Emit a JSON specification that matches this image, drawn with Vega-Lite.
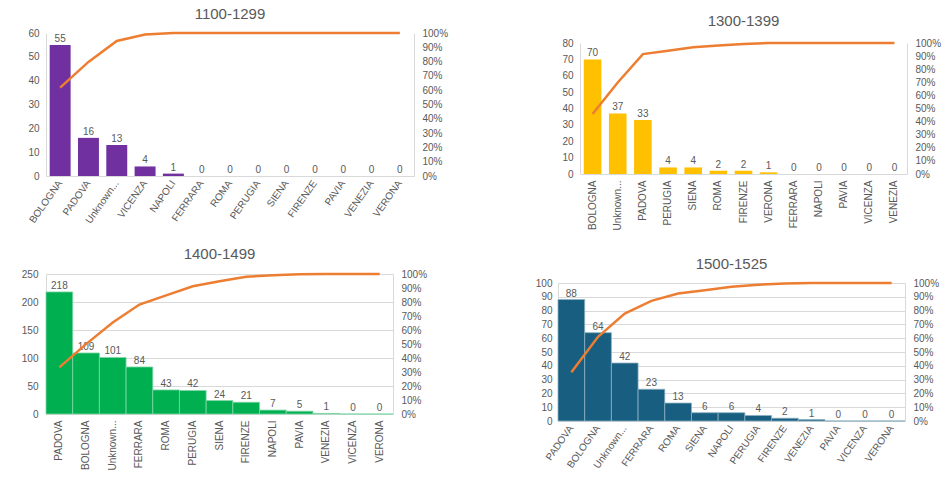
{
  "$schema": "https://vega.github.io/schema/vega-lite/v6.json",
  "padding": {"left": 5, "top": 7, "right": 0, "bottom": 0},
  "background": "white",
  "config": {
    "view": {"stroke": null},
    "font": "Liberation Sans",
    "axis": {"labelColor": "#595959", "labelFontSize": 10, "ticks": false, "domainColor": "#D9D9D9", "gridColor": "#D9D9D9", "domainWidth": 1},
    "title": {"fontSize": 15, "fontWeight": "normal", "color": "#595959", "anchor": "middle"},
    "text": {"fontSize": 10, "color": "#595959"}
  },
  "data": {"values": [
    {"period": "1100-1299", "city": "BOLOGNA", "count": 55, "cum": 0.618, "rank": 1},
    {"period": "1100-1299", "city": "PADOVA", "count": 16, "cum": 0.798, "rank": 2},
    {"period": "1100-1299", "city": "Unknown...", "count": 13, "cum": 0.944, "rank": 3},
    {"period": "1100-1299", "city": "VICENZA", "count": 4, "cum": 0.989, "rank": 4},
    {"period": "1100-1299", "city": "NAPOLI", "count": 1, "cum": 1, "rank": 5},
    {"period": "1100-1299", "city": "FERRARA", "count": 0, "cum": 1, "rank": 6},
    {"period": "1100-1299", "city": "ROMA", "count": 0, "cum": 1, "rank": 7},
    {"period": "1100-1299", "city": "PERUGIA", "count": 0, "cum": 1, "rank": 8},
    {"period": "1100-1299", "city": "SIENA", "count": 0, "cum": 1, "rank": 9},
    {"period": "1100-1299", "city": "FIRENZE", "count": 0, "cum": 1, "rank": 10},
    {"period": "1100-1299", "city": "PAVIA", "count": 0, "cum": 1, "rank": 11},
    {"period": "1100-1299", "city": "VENEZIA", "count": 0, "cum": 1, "rank": 12},
    {"period": "1100-1299", "city": "VERONA", "count": 0, "cum": 1, "rank": 13},
    {"period": "1300-1399", "city": "BOLOGNA", "count": 70, "cum": 0.458, "rank": 1},
    {"period": "1300-1399", "city": "Unknown...", "count": 37, "cum": 0.699, "rank": 2},
    {"period": "1300-1399", "city": "PADOVA", "count": 33, "cum": 0.915, "rank": 3},
    {"period": "1300-1399", "city": "PERUGIA", "count": 4, "cum": 0.941, "rank": 4},
    {"period": "1300-1399", "city": "SIENA", "count": 4, "cum": 0.967, "rank": 5},
    {"period": "1300-1399", "city": "ROMA", "count": 2, "cum": 0.98, "rank": 6},
    {"period": "1300-1399", "city": "FIRENZE", "count": 2, "cum": 0.993, "rank": 7},
    {"period": "1300-1399", "city": "VERONA", "count": 1, "cum": 1, "rank": 8},
    {"period": "1300-1399", "city": "FERRARA", "count": 0, "cum": 1, "rank": 9},
    {"period": "1300-1399", "city": "NAPOLI", "count": 0, "cum": 1, "rank": 10},
    {"period": "1300-1399", "city": "PAVIA", "count": 0, "cum": 1, "rank": 11},
    {"period": "1300-1399", "city": "VICENZA", "count": 0, "cum": 1, "rank": 12},
    {"period": "1300-1399", "city": "VENEZIA", "count": 0, "cum": 1, "rank": 13},
    {"period": "1400-1499", "city": "PADOVA", "count": 218, "cum": 0.333, "rank": 1},
    {"period": "1400-1499", "city": "BOLOGNA", "count": 109, "cum": 0.499, "rank": 2},
    {"period": "1400-1499", "city": "Unknown...", "count": 101, "cum": 0.653, "rank": 3},
    {"period": "1400-1499", "city": "FERRARA", "count": 84, "cum": 0.782, "rank": 4},
    {"period": "1400-1499", "city": "ROMA", "count": 43, "cum": 0.847, "rank": 5},
    {"period": "1400-1499", "city": "PERUGIA", "count": 42, "cum": 0.912, "rank": 6},
    {"period": "1400-1499", "city": "SIENA", "count": 24, "cum": 0.948, "rank": 7},
    {"period": "1400-1499", "city": "FIRENZE", "count": 21, "cum": 0.98, "rank": 8},
    {"period": "1400-1499", "city": "NAPOLI", "count": 7, "cum": 0.991, "rank": 9},
    {"period": "1400-1499", "city": "PAVIA", "count": 5, "cum": 0.998, "rank": 10},
    {"period": "1400-1499", "city": "VENEZIA", "count": 1, "cum": 1, "rank": 11},
    {"period": "1400-1499", "city": "VICENZA", "count": 0, "cum": 1, "rank": 12},
    {"period": "1400-1499", "city": "VERONA", "count": 0, "cum": 1, "rank": 13},
    {"period": "1500-1525", "city": "PADOVA", "count": 88, "cum": 0.353, "rank": 1},
    {"period": "1500-1525", "city": "BOLOGNA", "count": 64, "cum": 0.61, "rank": 2},
    {"period": "1500-1525", "city": "Unknown...", "count": 42, "cum": 0.779, "rank": 3},
    {"period": "1500-1525", "city": "FERRARA", "count": 23, "cum": 0.871, "rank": 4},
    {"period": "1500-1525", "city": "ROMA", "count": 13, "cum": 0.924, "rank": 5},
    {"period": "1500-1525", "city": "SIENA", "count": 6, "cum": 0.948, "rank": 6},
    {"period": "1500-1525", "city": "NAPOLI", "count": 6, "cum": 0.972, "rank": 7},
    {"period": "1500-1525", "city": "PERUGIA", "count": 4, "cum": 0.988, "rank": 8},
    {"period": "1500-1525", "city": "FIRENZE", "count": 2, "cum": 0.996, "rank": 9},
    {"period": "1500-1525", "city": "VENEZIA", "count": 1, "cum": 1, "rank": 10},
    {"period": "1500-1525", "city": "PAVIA", "count": 0, "cum": 1, "rank": 11},
    {"period": "1500-1525", "city": "VICENZA", "count": 0, "cum": 1, "rank": 12},
    {"period": "1500-1525", "city": "VERONA", "count": 0, "cum": 1, "rank": 13}
  ]},
  "align": "none",
  "vconcat": [
    {
      "hconcat": [
        {
          "title": {"text": "1100-1299", "offset": 6},
          "width": 368, "height": 143,
          "transform": [{"filter": "datum.period == '1100-1299'"}],
          "encoding": {"x": {"field": "city", "type": "nominal", "sort": {"field": "rank", "op": "min"}, "title": null,
            "scale": {"paddingInner": 0.26, "paddingOuter": 0.13},
            "axis": {"labelAngle": -55, "labelPadding": 5}}},
          "layer": [
            {"encoding": {"y": {"field": "count", "type": "quantitative", "title": null, "scale": {"domain": [0, 60]},
              "axis": {"values": [0, 10, 20, 30, 40, 50, 60], "grid": false, "minExtent": 20, "maxExtent": 20, "labelPadding": 7}}},
             "layer": [
               {"mark": {"type": "bar", "color": "#7030A0"}},
               {"mark": {"type": "text", "baseline": "bottom", "dy": -1}, "encoding": {"text": {"field": "count"}}}
             ]},
            {"mark": {"type": "line", "color": "#ED7D31", "strokeWidth": 2.5},
             "encoding": {"y": {"field": "cum", "type": "quantitative", "title": null, "scale": {"domain": [0, 1]},
              "axis": {"orient": "right", "format": ".0%", "values": [0, 0.1, 0.2, 0.3, 0.4, 0.5, 0.6, 0.7, 0.8, 0.9, 1], "grid": false, "minExtent": 35, "maxExtent": 35, "labelPadding": 8}}}}
          ],
          "resolve": {"scale": {"y": "independent"}}
        },
        {
          "title": {"text": "1300-1399", "offset": 4},
          "width": 327, "height": 141,
          "transform": [{"filter": "datum.period == '1300-1399'"}],
          "encoding": {"x": {"field": "city", "type": "nominal", "sort": {"field": "rank", "op": "min"}, "title": null,
            "scale": {"paddingInner": 0.3, "paddingOuter": 0.15},
            "axis": {"labelAngle": -90, "labelPadding": 6}}},
          "layer": [
            {"encoding": {"y": {"field": "count", "type": "quantitative", "title": null, "scale": {"domain": [0, 80], "range": [141, 10]},
              "axis": {"values": [0, 10, 20, 30, 40, 50, 60, 70, 80], "grid": false, "minExtent": 20, "maxExtent": 20, "labelPadding": 7}}},
             "layer": [
               {"mark": {"type": "bar", "color": "#FFC000"}},
               {"mark": {"type": "text", "baseline": "bottom", "dy": -1}, "encoding": {"text": {"field": "count"}}}
             ]},
            {"mark": {"type": "line", "color": "#ED7D31", "strokeWidth": 2.5},
             "encoding": {"y": {"field": "cum", "type": "quantitative", "title": null, "scale": {"domain": [0, 1], "range": [141, 10]},
              "axis": {"orient": "right", "format": ".0%", "values": [0, 0.1, 0.2, 0.3, 0.4, 0.5, 0.6, 0.7, 0.8, 0.9, 1], "grid": false, "minExtent": 35, "maxExtent": 35, "labelPadding": 8}}}}
          ],
          "resolve": {"scale": {"y": "independent"}}
        }
      ],
      "spacing": 111
    },
    {
      "hconcat": [
        {
          "title": {"text": "1400-1499", "offset": 7},
          "width": 347, "height": 140,
          "transform": [{"filter": "datum.period == '1400-1499'"}],
          "encoding": {"x": {"field": "city", "type": "nominal", "sort": {"field": "rank", "op": "min"}, "title": null,
            "scale": {"paddingInner": 0, "paddingOuter": 0},
            "axis": {"labelAngle": -90, "labelPadding": 6}}},
          "layer": [
            {"encoding": {"y": {"field": "count", "type": "quantitative", "title": null, "scale": {"domain": [0, 250]},
              "axis": {"values": [0, 50, 100, 150, 200, 250], "grid": true, "minExtent": 41, "maxExtent": 41, "labelPadding": 8}}},
             "layer": [
               {"mark": {"type": "bar", "color": "#00B050", "stroke": "#7FD7A7", "strokeWidth": 0.8}},
               {"mark": {"type": "text", "baseline": "bottom", "dy": -1}, "encoding": {"text": {"field": "count"}}}
             ]},
            {"mark": {"type": "line", "color": "#ED7D31", "strokeWidth": 2.5},
             "encoding": {"y": {"field": "cum", "type": "quantitative", "title": null, "scale": {"domain": [0, 1]},
              "axis": {"orient": "right", "format": ".0%", "values": [0, 0.1, 0.2, 0.3, 0.4, 0.5, 0.6, 0.7, 0.8, 0.9, 1], "grid": false, "minExtent": 35, "maxExtent": 35, "labelPadding": 8}}}}
          ],
          "resolve": {"scale": {"y": "independent"}}
        },
        {
          "title": {"text": "1500-1525", "offset": 2},
          "width": 347, "height": 147,
          "transform": [{"filter": "datum.period == '1500-1525'"}],
          "encoding": {"x": {"field": "city", "type": "nominal", "sort": {"field": "rank", "op": "min"}, "title": null,
            "scale": {"paddingInner": 0, "paddingOuter": 0},
            "axis": {"labelAngle": -55, "labelPadding": 5}}},
          "layer": [
            {"encoding": {"y": {"field": "count", "type": "quantitative", "title": null, "scale": {"domain": [0, 100], "range": [147, 9]},
              "axis": {"values": [0, 10, 20, 30, 40, 50, 60, 70, 80, 90, 100], "grid": true, "minExtent": 23, "maxExtent": 23, "labelPadding": 6}}},
             "layer": [
               {"mark": {"type": "bar", "color": "#175E80", "stroke": "#8BB0C2", "strokeWidth": 0.8}},
               {"mark": {"type": "text", "baseline": "bottom", "dy": -1}, "encoding": {"text": {"field": "count"}}}
             ]},
            {"mark": {"type": "line", "color": "#ED7D31", "strokeWidth": 2.5},
             "encoding": {"y": {"field": "cum", "type": "quantitative", "title": null, "scale": {"domain": [0, 1], "range": [147, 9]},
              "axis": {"orient": "right", "format": ".0%", "values": [0, 0.1, 0.2, 0.3, 0.4, 0.5, 0.6, 0.7, 0.8, 0.9, 1], "grid": false, "minExtent": 35, "maxExtent": 35, "labelPadding": 8}}}}
          ],
          "resolve": {"scale": {"y": "independent"}}
        }
      ],
      "spacing": 107
    }
  ],
  "spacing": 16
}
